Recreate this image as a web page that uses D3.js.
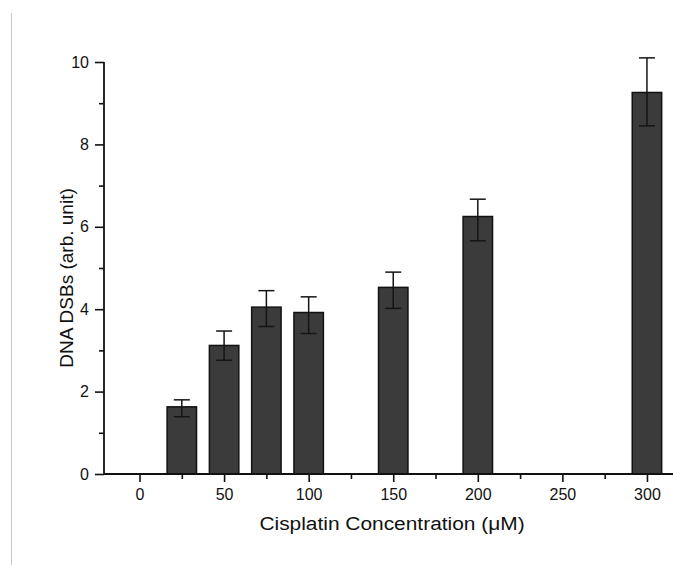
<!DOCTYPE html>
<html lang="en">
    <head>
        <meta charset="utf-8">
        <title>DNA DSBs vs cisplatin</title>
        <script src="https://cdn.jsdelivr.net/npm/d3@7"></script>
        <style>
            body { margin: 0; background: #fff; }
            svg text { font-family: "Liberation Sans", Arial, sans-serif; fill: #111; }
            svg .tick text { font-size: 16px; }
        </style>
    </head>
    <body>
        <script>

            // values
            var concentrations = [25, 50, 75, 100, 150, 200, 300];
            var dsbValues = [1.63, 3.12, 4.05, 3.92, 4.53, 6.25, 9.26];
            var errUpper = [0.17, 0.35, 0.40, 0.38, 0.37, 0.42, 0.84];
            var errLower = [0.24, 0.36, 0.47, 0.51, 0.51, 0.59, 0.81];

            var xMajorTicks = [0, 50, 100, 150, 200, 250, 300];
            var xMinorTicks = [25, 75, 125, 175, 225, 275];
            var yMajorTicks = [0, 2, 4, 6, 8, 10];
            var yMinorTicks = [1, 3, 5, 7, 9];

            var width = 673
            var height = 565
            var barWidth = 17.4   // in concentration units

            var svg = d3.select("body").append("svg")
                        .attr("width", width)
                        .attr("height", height)

            // faint page edge on the left of the scan
            svg.append("line")
                .attr("x1", 11.5).attr("x2", 11.5)
                .attr("y1", 13).attr("y2", height)
                .style("stroke", "#c8c8c8")
                .style("stroke-width", 1)

            var x = d3.scaleLinear().domain([-21, 315.4]).range([104, 673]);
            var y = d3.scaleLinear().domain([0, 10]).range([474, 62]);

            // bars
            svg.append("g").selectAll("rect").data(dsbValues).enter()
                .append("rect")
                .attr("x", function(d,i) { return x(concentrations[i] - barWidth/2); })
                .attr("width", function(d,i) { return x(concentrations[i] + barWidth/2) - x(concentrations[i] - barWidth/2); })
                .attr("y", function(d) { return y(d); })
                .attr("height", function(d) { return y(0) - y(d); })
                .style("fill", "#3b3b3b")
                .style("stroke", "#111")
                .style("stroke-width", 1.5)

            // error bars
            var capHalf = 8;
            var err = svg.append("g")
                .style("stroke", "#151515")
                .style("stroke-width", 1.5)
                .style("fill", "none")

            err.selectAll("line.stem").data(dsbValues).enter()
                .append("line").attr("class", "stem")
                .attr("x1", function(d,i) { return x(concentrations[i]); })
                .attr("x2", function(d,i) { return x(concentrations[i]); })
                .attr("y1", function(d,i) { return y(d + errUpper[i]); })
                .attr("y2", function(d,i) { return y(d - errLower[i]); })

            err.selectAll("line.capTop").data(dsbValues).enter()
                .append("line").attr("class", "capTop")
                .attr("x1", function(d,i) { return x(concentrations[i]) - capHalf; })
                .attr("x2", function(d,i) { return x(concentrations[i]) + capHalf; })
                .attr("y1", function(d,i) { return y(d + errUpper[i]); })
                .attr("y2", function(d,i) { return y(d + errUpper[i]); })

            err.selectAll("line.capBottom").data(dsbValues).enter()
                .append("line").attr("class", "capBottom")
                .attr("x1", function(d,i) { return x(concentrations[i]) - capHalf; })
                .attr("x2", function(d,i) { return x(concentrations[i]) + capHalf; })
                .attr("y1", function(d,i) { return y(d - errLower[i]); })
                .attr("y2", function(d,i) { return y(d - errLower[i]); })

            // axes
            var xAxis = svg.append("g")
                .attr("transform", "translate(0," + y(0) + ")")
                .call(d3.axisBottom(x).tickValues(xMajorTicks).tickSize(8).tickPadding(7).tickFormat(d3.format("d")))
                .attr("font-size", 16)
                .attr("font-family", "Liberation Sans, Arial, sans-serif")
            svg.append("g")
                .attr("transform", "translate(0," + y(0) + ")")
                .call(d3.axisBottom(x).tickValues(xMinorTicks).tickSize(5).tickFormat(""))
                .select(".domain").remove()

            var yAxis = svg.append("g")
                .attr("transform", "translate(" + x(-21) + ",0)")
                .call(d3.axisLeft(y).tickValues(yMajorTicks).tickSize(9).tickPadding(6).tickFormat(d3.format("d")))
                .attr("font-size", 16)
                .attr("font-family", "Liberation Sans, Arial, sans-serif")
            svg.append("g")
                .attr("transform", "translate(" + x(-21) + ",0)")
                .call(d3.axisLeft(y).tickValues(yMinorTicks).tickSize(5).tickFormat(""))
                .select(".domain").remove()

            xAxis.select(".domain").remove()
            yAxis.select(".domain").remove()
            svg.append("line")
                .attr("x1", x(-21)).attr("x2", width)
                .attr("y1", y(0)).attr("y2", y(0))
                .style("stroke", "#111").style("stroke-width", 1.8)
            svg.append("line")
                .attr("x1", x(-21)).attr("x2", x(-21))
                .attr("y1", y(0)).attr("y2", y(10))
                .style("stroke", "#111").style("stroke-width", 1.8)

            svg.selectAll(".tick line").style("stroke", "#111").style("stroke-width", 1.6)

            // axis titles
            svg.append("text")
                .attr("transform", "translate(392,530) scale(1.1,1)")
                .attr("text-anchor", "middle")
                .style("font-size", "19px")
                .text("Cisplatin Concentration (\u03BCM)")

            svg.append("text")
                .attr("transform", "translate(73,278) rotate(-90)")
                .attr("text-anchor", "middle")
                .style("font-size", "19px")
                .text("DNA DSBs (arb. unit)")

        </script>
    </body>
</html>
